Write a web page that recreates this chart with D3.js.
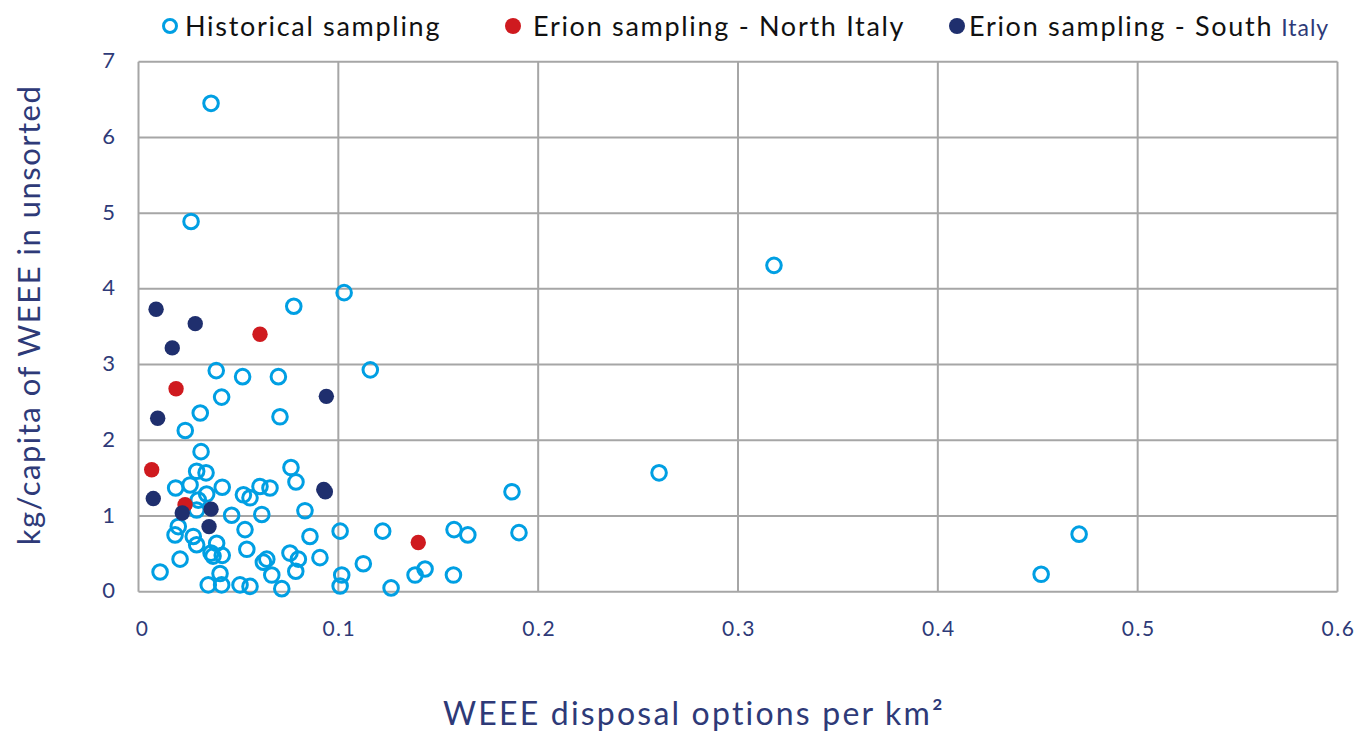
<!DOCTYPE html>
<html>
<head>
<meta charset="utf-8">
<script src="https://cdn.jsdelivr.net/npm/d3@7"></script>
<style>
  body { margin: 0; background: #fff; }
  text { font-family: Lato, 'Open Sans', sans-serif; }
</style>
</head>
<body>
<div id="chart"></div>
<script>
// [disposal options per km2, kg/capita]
const historical = [
  [0.0363, 6.45], [0.0263, 4.89], [0.318, 4.31], [0.0777, 3.77], [0.1029, 3.95],
  [0.0389, 2.92], [0.0521, 2.84], [0.0700, 2.84], [0.1160, 2.93], [0.0416, 2.57],
  [0.0309, 2.36], [0.0708, 2.31], [0.0234, 2.13], [0.0313, 1.85], [0.2605, 1.57],
  [0.1869, 1.32], [0.4707, 0.76], [0.4517, 0.23],
  [0.0291, 1.59], [0.0338, 1.57], [0.0186, 1.37], [0.0258, 1.41], [0.0419, 1.38],
  [0.0341, 1.29], [0.0299, 1.21], [0.0291, 1.08], [0.0466, 1.01], [0.0525, 1.28],
  [0.0558, 1.24], [0.0608, 1.39], [0.0658, 1.37], [0.0763, 1.64], [0.0788, 1.45],
  [0.0617, 1.02], [0.0833, 1.07], [0.1009, 0.80], [0.0858, 0.73], [0.0533, 0.82],
  [0.0199, 0.86], [0.0183, 0.75], [0.0274, 0.73], [0.0291, 0.62], [0.0391, 0.64],
  [0.0363, 0.51], [0.0419, 0.48], [0.0373, 0.47], [0.0208, 0.43], [0.0108, 0.26],
  [0.0408, 0.24], [0.0349, 0.09], [0.0416, 0.09], [0.0508, 0.09], [0.0558, 0.07],
  [0.0542, 0.56], [0.0758, 0.51], [0.0800, 0.43], [0.0908, 0.45], [0.0642, 0.43],
  [0.0625, 0.39], [0.0667, 0.22], [0.0787, 0.27], [0.1017, 0.22], [0.1009, 0.075],
  [0.0717, 0.04], [0.1125, 0.37], [0.1222, 0.80], [0.1264, 0.05], [0.1384, 0.22],
  [0.1434, 0.30], [0.1579, 0.82], [0.1648, 0.75], [0.1576, 0.22], [0.1904, 0.78]
];
const north = [
  [0.0066, 1.61], [0.0233, 1.15], [0.0188, 2.68], [0.0608, 3.40], [0.1400, 0.65]
];
const south = [
  [0.0088, 3.73], [0.0284, 3.54], [0.0169, 3.22], [0.0940, 2.58], [0.0096, 2.29],
  [0.0074, 1.23], [0.0219, 1.04], [0.0363, 1.09], [0.0353, 0.86],
  [0.0927, 1.35], [0.0935, 1.32]
];
const xTicks = [0, 0.1, 0.2, 0.3, 0.4, 0.5, 0.6];
const yTicks = [0, 1, 2, 3, 4, 5, 6, 7];
const legendLabels = ['Historical sampling', 'Erion sampling - North Italy', 'Erion sampling - South '];

let width = 1356;
let height = 731;
let plotLeft = 138.5, plotRight = 1337.5, plotTop = 61.7, plotBottom = 591.7;
let cyan = '#009fe3';
let red = '#cf1a1f';
let navy = '#1f2f6e';
let labelColor = '#2e3a78';
let gridColor = '#a6a6a6';

let svg = d3.select('#chart')
  .append('svg')
  .attr('width', width)
  .attr('height', height);

let x = d3.scaleLinear().domain([0, 0.6]).range([plotLeft, plotRight]);
let y = d3.scaleLinear().domain([0, 7]).range([plotBottom, plotTop]);

// grid
svg.append('g')
  .selectAll('line')
  .data(xTicks)
  .enter()
  .append('line')
  .attr('x1', d => x(d)).attr('x2', d => x(d))
  .attr('y1', plotTop).attr('y2', plotBottom)
  .attr('stroke', gridColor).attr('stroke-width', 2);

svg.append('g')
  .selectAll('line')
  .data(yTicks)
  .enter()
  .append('line')
  .attr('x1', plotLeft).attr('x2', plotRight)
  .attr('y1', d => y(d)).attr('y2', d => y(d))
  .attr('stroke', gridColor).attr('stroke-width', 2);

// tick labels
svg.append('g')
  .selectAll('text')
  .data(xTicks)
  .enter()
  .append('text')
  .attr('x', d => x(d) + (d === 0 ? 4 : 1))
  .attr('y', 636)
  .attr('text-anchor', 'middle')
  .attr('font-size', 21)
  .attr('letter-spacing', 1.5)
  .attr('fill', labelColor)
  .text(d => d);

svg.append('g')
  .selectAll('text')
  .data(yTicks)
  .enter()
  .append('text')
  .attr('x', 115)
  .attr('y', d => y(d))
  .attr('dy', '0.3em')
  .attr('text-anchor', 'end')
  .attr('font-size', 22)
  .attr('fill', labelColor)
  .text(d => d);

// axis titles
svg.append('text')
  .attr('transform', 'translate(40 315) rotate(-90)')
  .attr('text-anchor', 'middle')
  .attr('font-size', 31)
  .attr('letter-spacing', 1.5)
  .attr('fill', labelColor)
  .text('kg/capita of WEEE in unsorted');

svg.append('text')
  .attr('x', 694)
  .attr('y', 725)
  .attr('text-anchor', 'middle')
  .attr('font-size', 32)
  .attr('letter-spacing', 2.2)
  .attr('fill', labelColor)
  .text('WEEE disposal options per km²');

// points
svg.append('g')
  .selectAll('circle')
  .data(historical)
  .enter()
  .append('circle')
  .attr('cx', d => x(d[0]))
  .attr('cy', d => y(d[1]))
  .attr('r', 7.3)
  .attr('fill', 'none')
  .attr('stroke', cyan)
  .attr('stroke-width', 3);

svg.append('g')
  .selectAll('circle')
  .data(north)
  .enter()
  .append('circle')
  .attr('cx', d => x(d[0]))
  .attr('cy', d => y(d[1]))
  .attr('r', 7.7)
  .attr('fill', red);

svg.append('g')
  .selectAll('circle')
  .data(south)
  .enter()
  .append('circle')
  .attr('cx', d => x(d[0]))
  .attr('cy', d => y(d[1]))
  .attr('r', 7.7)
  .attr('fill', navy);

// legend
let legend = svg.append('g').attr('class', 'legend');
let legendX = [170, 513, 957];
let legendTextX = [185, 533, 969];

legend.append('circle')
  .attr('cx', legendX[0]).attr('cy', 26).attr('r', 6.5)
  .attr('fill', 'none').attr('stroke', cyan).attr('stroke-width', 3);
legend.append('circle')
  .attr('cx', legendX[1]).attr('cy', 26).attr('r', 8)
  .attr('fill', red);
legend.append('circle')
  .attr('cx', legendX[2]).attr('cy', 26).attr('r', 8)
  .attr('fill', navy);

legend.selectAll('text.lbl')
  .data(legendLabels)
  .enter()
  .append('text')
  .attr('class', 'lbl')
  .attr('x', (d, i) => legendTextX[i])
  .attr('y', 36)
  .attr('font-size', 27)
  .attr('letter-spacing', 1.7)
  .attr('fill', '#111')
  .text(d => d)
  .each(function(d, i) {
    if (i === 2) {
      let w = this.getComputedTextLength();
      legend.append('text')
        .attr('x', legendTextX[i] + w + 8)
        .attr('y', 36)
        .attr('font-size', 23)
        .attr('letter-spacing', 1)
        .attr('fill', labelColor)
        .text('Italy');
    }
  });
</script>
</body>
</html>
